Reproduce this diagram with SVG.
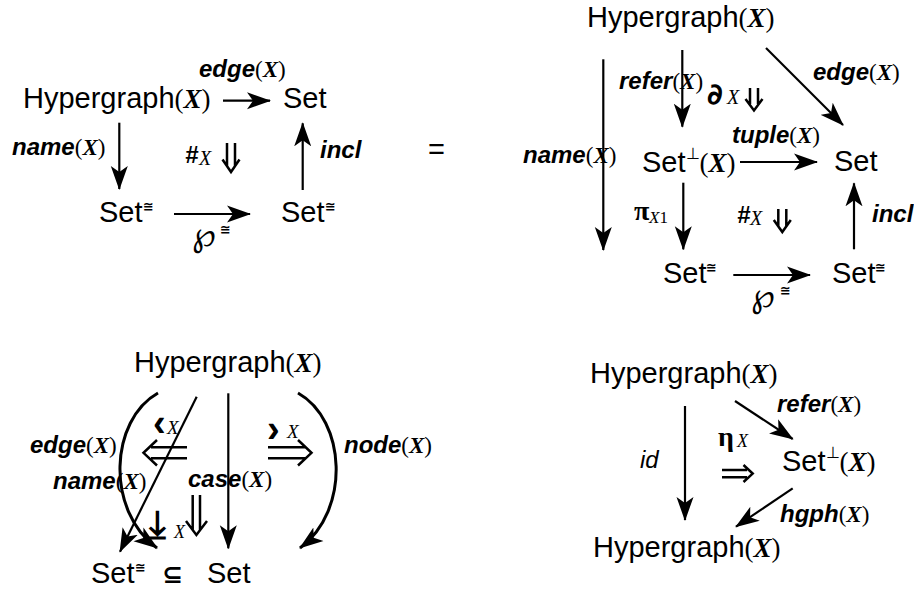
<svg xmlns="http://www.w3.org/2000/svg" width="914" height="592" viewBox="0 0 914 592">
<defs>
<style>
.t{font-family:"Liberation Sans",Arial,sans-serif;font-size:29px;fill:#000}
.s{font-family:"Liberation Serif","Times New Roman",serif;font-size:27px;font-weight:normal;font-style:normal}
.bx{font-weight:bold;font-style:italic}
.lb{font-family:"Liberation Sans",Arial,sans-serif;font-size:24px;font-weight:bold;font-style:italic;fill:#000}
.ls{font-family:"Liberation Serif","Times New Roman",serif;font-size:23px;font-weight:normal;font-style:normal}
.sup{font-family:"DejaVu Sans",sans-serif;font-size:13px;font-weight:bold;fill:#000}
.ix{font-family:"Liberation Serif","Times New Roman",serif;font-style:italic;fill:#000}
.gr{font-family:"Liberation Serif","Times New Roman",serif;font-weight:bold;fill:#000}
.wp{font-family:"DejaVu Sans",sans-serif;font-size:34px;font-style:italic;fill:#000}
.ar{stroke:#000;stroke-width:2.2;fill:none;marker-end:url(#ah)}
.arc{stroke:#000;stroke-width:3;fill:none;marker-end:url(#ah)}
.dbl{stroke:#000;stroke-width:2.5;fill:none;stroke-linecap:butt}
</style>
<marker id="ah" markerUnits="userSpaceOnUse" markerWidth="24" markerHeight="18" viewBox="0 0 24 18" refX="23" refY="9" orient="auto">
<path d="M0,0.5 L24,9 L0,17.5 L6,9 Z" fill="#000"/>
</marker>
</defs>
<rect width="914" height="592" fill="#fff"/>

<!-- ===== Top-left diagram ===== -->
<g id="tl-hyper"><text class="t" x="23" y="108">Hypergraph<tspan class="s">(<tspan class="bx">X</tspan>)</tspan></text></g>
<g id="tl-set"><text class="t" x="283" y="108">Set</text></g>
<g id="tl-setiso1"><text class="t" x="99" y="222">Set</text><text class="sup" x="143" y="211">≅</text></g>
<g id="tl-setiso2"><text class="t" x="281" y="222">Set</text><text class="sup" x="325" y="211">≅</text></g>
<g id="tl-cell"><text class="lb" x="185" y="163" font-style="normal">#</text><text class="ix" x="199" y="165" font-size="20">X</text>
<path class="dbl" d="M227,143 V166 M235,143 V166 M222.5,159.5 L231,172 L239.5,159.5"/></g>
<text x="428" y="159" class="t" font-size="24">=</text>

<!-- ===== Top-right diagram ===== -->
<g id="tr-hyper"><text class="t" x="587" y="27">Hypergraph<tspan class="s">(<tspan class="bx">X</tspan>)</tspan></text></g>
<g id="tr-setbot"><text class="t" x="642" y="172">Set<tspan font-size="16" dy="-13">⊥</tspan><tspan class="s" dy="13">(<tspan class="bx">X</tspan>)</tspan></text></g>
<g id="tr-set"><text class="t" x="834" y="171">Set</text></g>
<g id="tr-setiso1"><text class="t" x="663" y="283">Set</text><text class="sup" x="706" y="272">≅</text></g>
<g id="tr-setiso2"><text class="t" x="832" y="283">Set</text><text class="sup" x="875" y="272">≅</text></g>
<g id="tr-cell1"><text x="707" y="104" font-family="DejaVu Sans,sans-serif" font-weight="bold" font-size="29">∂</text><text class="ix" x="727" y="104" font-size="20">X</text>
<path class="dbl" d="M750,88 V104 M758,88 V104 M745.5,99 L754,110.5 L762.5,99"/></g>
<g id="tr-cell2"><text class="lb" x="737" y="223" font-style="normal">#</text><text class="ix" x="750" y="225" font-size="20">X</text>
<path class="dbl" d="M778.3,209 V226 M786.3,209 V226 M773.8,220 L782.3,232 L790.8,220"/></g>

<!-- ===== Bottom-left diagram ===== -->
<g id="bl-hyper"><text class="t" x="134" y="372">Hypergraph<tspan class="s">(<tspan class="bx">X</tspan>)</tspan></text></g>
<g id="bl-setiso"><text class="t" x="91" y="583">Set</text><text class="sup" x="135" y="572" font-weight="normal">≅</text></g>
<g id="bl-subset"><text x="162" y="583" font-family="DejaVu Sans,sans-serif" font-weight="bold" font-size="25">⊆</text></g>
<g id="bl-set"><text class="t" x="207" y="583">Set</text></g>
<g id="bl-cells">
<text x="153" y="436" font-family="Liberation Sans,Arial,sans-serif" font-weight="bold" font-size="38">‹</text><text class="ix" x="167" y="434" font-size="19">X</text>
<path class="dbl" stroke-width="3.5" d="M151,447.3 H187 M151,458.3 H187 M157,440 L143.5,452.8 L157,465.5"/>
<text x="267" y="442" font-family="Liberation Sans,Arial,sans-serif" font-weight="bold" font-size="38">›</text><text class="ix" x="287" y="438" font-size="19">X</text>
<path class="dbl" stroke-width="3.5" d="M268,447.3 H305 M268,458.3 H305 M298,440 L311.5,452.8 L298,465.5"/>
<path class="dbl" stroke-width="1.8" d="M192.7,495 V530 M200,495 V530 M186,521 L196.4,535 L207,521"/>
<text x="149" y="537" font-family="DejaVu Sans,sans-serif" font-weight="bold" font-size="38">⤓</text><text class="ix" x="174" y="538" font-size="18">X</text>
</g>

<!-- ===== Bottom-right diagram ===== -->
<g id="br-hyper"><text class="t" x="590" y="383">Hypergraph<tspan class="s">(<tspan class="bx">X</tspan>)</tspan></text></g>
<g id="br-setbot"><text class="t" x="782" y="471">Set<tspan font-size="16" dy="-13">⊥</tspan><tspan class="s" dy="13">(<tspan class="bx">X</tspan>)</tspan></text></g>
<g id="br-hyper2"><text class="t" x="593" y="557">Hypergraph<tspan class="s">(<tspan class="bx">X</tspan>)</tspan></text></g>
<g id="br-cell"><text class="gr" x="718" y="446" font-size="28">η</text><text class="ix" x="737" y="447" font-size="18">X</text>
<path class="dbl" stroke-width="2" d="M722,470 H747 M722,477.3 H747 M743.5,465 L752.7,473.6 L743.5,482"/></g>

<!-- ===== Connectors ===== -->
<g id="connectors">
<!-- top-left -->
<path class="ar" d="M223,100.7 H270"/>
<text class="lb" x="199" y="77">edge<tspan class="ls">(<tspan class="bx">X</tspan>)</tspan></text>
<path class="ar" d="M119.3,122.7 V189"/>
<text class="lb" x="12" y="155">name<tspan class="ls">(<tspan class="bx">X</tspan>)</tspan></text>
<path class="ar" d="M174,214 H250"/>
<text class="wp" x="192" y="246">℘</text><text class="sup" x="220" y="234">≅</text>
<path class="ar" d="M302.7,190 V123.3"/>
<text class="lb" x="320" y="158">incl</text>

<!-- top-right -->
<path class="ar" d="M682.3,50 V126.7"/>
<text class="lb" x="619" y="89">refer<tspan class="ls">(<tspan class="bx">X</tspan>)</tspan></text>
<path class="ar" d="M766,48 L843,125"/>
<text class="lb" x="813" y="80">edge<tspan class="ls">(<tspan class="bx">X</tspan>)</tspan></text>
<path class="ar" d="M603.3,59.3 V250"/>
<text class="lb" x="523" y="163">name<tspan class="ls">(<tspan class="bx">X</tspan>)</tspan></text>
<path class="ar" d="M740,162 H817"/>
<text class="lb" x="732" y="143">tuple<tspan class="ls">(<tspan class="bx">X</tspan>)</tspan></text>
<path class="ar" d="M683.3,182.7 V249.3"/>
<text class="gr" x="634" y="220" font-size="28">π</text><text class="ix" x="649" y="223" font-size="17">X<tspan font-style="normal">1</tspan></text>
<path class="ar" d="M854,249.3 V183.3"/>
<text class="lb" x="872" y="222">incl</text>
<path class="ar" d="M733.3,275 H810"/>
<text class="wp" x="751" y="307">℘</text><text class="sup" x="780" y="295">≅</text>

<!-- bottom-left -->
<path class="arc" d="M158,393 C110,420 105,510 157,548"/>
<text class="lb" x="30" y="453">edge<tspan class="ls">(<tspan class="bx">X</tspan>)</tspan></text>
<path class="ar" d="M196.7,396.7 L120,551.7"/>
<text class="lb" x="53" y="489">name<tspan class="ls">(<tspan class="bx">X</tspan>)</tspan></text>
<path class="ar" d="M228.3,393.3 V548.3"/>
<text class="lb" x="188" y="487">case<tspan class="ls">(<tspan class="bx">X</tspan>)</tspan></text>
<path class="arc" d="M298,393 C346,420 351,510 300,548"/>
<text class="lb" x="344" y="453">node<tspan class="ls">(<tspan class="bx">X</tspan>)</tspan></text>

<!-- bottom-right -->
<path class="ar" d="M735,401 L792.7,439"/>
<text class="lb" x="777" y="412">refer<tspan class="ls">(<tspan class="bx">X</tspan>)</tspan></text>
<path class="ar" d="M685,406 V520"/>
<text x="640" y="468" font-family="Liberation Sans,Arial,sans-serif" font-style="italic" font-size="24">id</text>
<path class="ar" d="M792.7,488.3 L736,526.7"/>
<text class="lb" x="780" y="522">hgph<tspan class="ls">(<tspan class="bx">X</tspan>)</tspan></text>
</g>
</svg>
